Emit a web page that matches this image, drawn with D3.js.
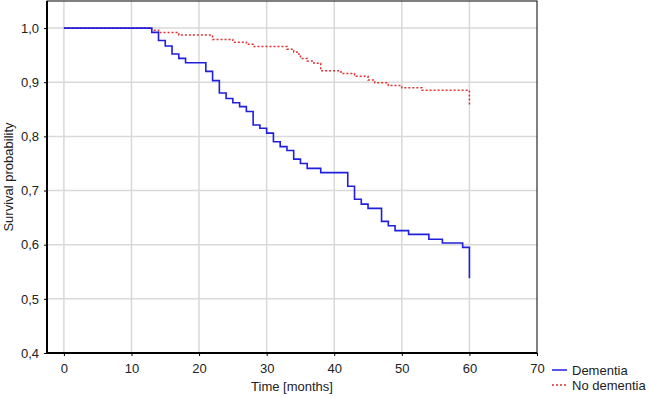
<!DOCTYPE html>
<html><head><meta charset="utf-8">
<script src="https://cdn.jsdelivr.net/npm/d3@7"></script>
<style>body{margin:0;background:#fff}svg{display:block;font-family:"Liberation Sans",Arial,sans-serif}</style>
</head><body><svg id="c" width="649" height="398"></svg>
<script>
const xTicks = [0,10,20,30,40,50,60,70];
const yTicks = [0.4,0.5,0.6,0.7,0.8,0.9,1.0];
const seriesNames = ["Dementia","No dementia"];
const dementiaTime  = [0,13,14,15,16,17,18,21,22,23,24,25,26,27,28,29,30,31,32,33,34,35,36,38,42,43,44,45,47,48,49,51,54,56,59,60,60];
const dementiaValue = [1.0,0.992,0.977,0.967,0.952,0.944,0.936,0.920,0.903,0.880,0.870,0.862,0.855,0.846,0.821,0.815,0.806,0.790,0.781,0.774,0.758,0.750,0.741,0.733,0.708,0.684,0.675,0.667,0.643,0.635,0.626,0.619,0.610,0.603,0.595,0.538,0.538];
const noDemTime  = [0,13,14,17,22,25,27,28,33,34,34.5,35,36,37,38,41,43,45,46,48,50,53,60,60];
const noDemValue = [1.0,0.996,0.992,0.987,0.979,0.974,0.970,0.966,0.961,0.956,0.952,0.944,0.939,0.935,0.921,0.916,0.911,0.904,0.899,0.894,0.890,0.885,0.856,0.856];

const svg = d3.select("#c");
const x = d3.scaleLinear().domain([-2.5,70]).range([47,537]);
const y = d3.scaleLinear().domain([0.4,1.05]).range([353,1]);
const fmt = v => d3.format(".1f")(v).replace(".", ",");

// grid
svg.append("g").selectAll("line").data(xTicks.filter(d=>d<70)).join("line")
  .attr("x1",d=>x(d)).attr("x2",d=>x(d)).attr("y1",y(1.05)).attr("y2",y(0.4))
  .attr("stroke","#d9d9d9").attr("stroke-width",1.5);
svg.append("g").selectAll("line").data(yTicks.filter(d=>d>0.4)).join("line")
  .attr("x1",x(-2.5)).attr("x2",x(70)).attr("y1",d=>y(d)).attr("y2",d=>y(d))
  .attr("stroke","#d9d9d9").attr("stroke-width",1.5);

// frame
svg.append("rect").attr("x",x(-2.5)).attr("y",y(1.05)).attr("width",x(70)-x(-2.5)).attr("height",y(0.4)-y(1.05))
  .attr("fill","none").attr("stroke","#000").attr("stroke-width",1);

// axes
const xAxis = svg.append("g").attr("transform",`translate(0,${y(0.4)})`)
  .call(d3.axisBottom(x).tickValues(xTicks).tickSize(3).tickPadding(8).tickFormat(d3.format("d")));
const yAxis = svg.append("g").attr("transform",`translate(${x(-2.5)},0)`)
  .call(d3.axisLeft(y).tickValues(yTicks).tickSize(3).tickPadding(5).tickFormat(fmt));
[xAxis,yAxis].forEach(a=>{
  a.select(".domain").attr("stroke","#000").attr("stroke-width",2);
  a.selectAll("text").attr("font-size",13).attr("fill","#222").attr("font-family","Liberation Sans, Arial, sans-serif");
  a.selectAll(".tick line").attr("stroke","#000");
});
xAxis.select(".domain").attr("d",`M${x(-2.5)},0H${x(70)}`);
yAxis.select(".domain").attr("d",`M0,${y(0.4)}V${y(1.05)}`);

// labels
svg.append("text").attr("x",(x(-2.5)+x(70))/2).attr("y",391).attr("text-anchor","middle")
  .attr("font-size",13).attr("fill","#222").text("Time [months]");
svg.append("text").attr("transform",`translate(13,${(y(0.4)+y(1.05))/2}) rotate(-90)`).attr("text-anchor","middle")
  .attr("font-size",13).attr("fill","#222").text("Survival probability");

// curves
const line = d3.line().x(d=>x(d[0])).y(d=>y(d[1])).curve(d3.curveStepAfter);
const dem = dementiaTime.map((t,i)=>[t,dementiaValue[i]]);
const nod = noDemTime.map((t,i)=>[t,noDemValue[i]]);
svg.append("path").datum(nod).attr("d",line).attr("fill","none")
  .attr("stroke","#e03030").attr("stroke-width",1.5).attr("stroke-dasharray","2,2");
svg.append("path").datum(dem).attr("d",line).attr("fill","none")
  .attr("stroke","#1f1fdc").attr("stroke-width",1.6);

// legend
const colors = ["#1f1fdc","#e03030"];
const dashes = [null,"2,2"];
const lg = svg.append("g");
seriesNames.forEach((n,i)=>{
  const yy = 370 + i*15;
  lg.append("line").attr("x1",552).attr("x2",567).attr("y1",yy).attr("y2",yy)
    .attr("stroke",colors[i]).attr("stroke-width",1.5).attr("stroke-dasharray",dashes[i]);
  lg.append("text").attr("x",572).attr("y",yy+4.5).attr("font-size",13).attr("fill","#222").text(n);
});
</script></body></html>
